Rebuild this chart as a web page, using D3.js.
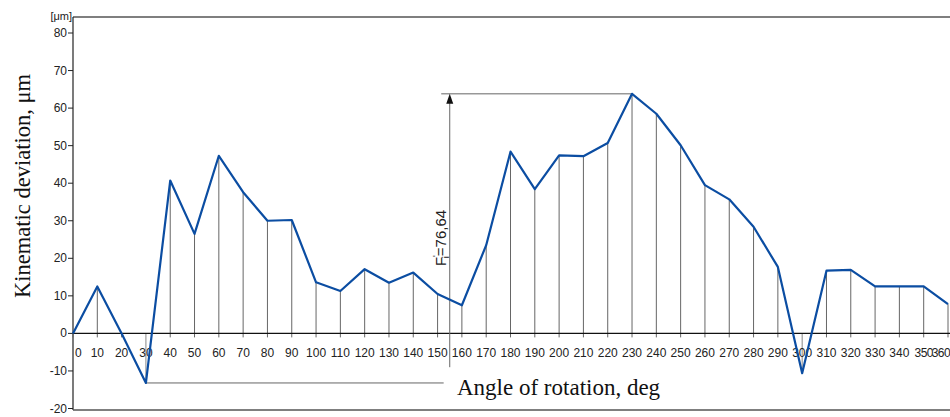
<!DOCTYPE html>
<html lang="en">
<head>
<meta charset="utf-8">
<title>Kinematic deviation</title>
<script src="https://d3js.org/d3.v7.min.js"></script>
<style>
  body { margin: 0; background: #fff; }
  .tick-label { font-family: "Liberation Sans", Arial, sans-serif; font-size: 12px; fill: #222; }
  .axis-title { font-family: "Liberation Serif", "Times New Roman", serif; font-size: 23px; fill: #111; }
</style>
</head>
<body>
<div id="chart"></div>
<script>
// data
var angles = d3.range(0, 361, 10);
var deviation = [0, 12.5, 0, -13.2, 40.7, 26.5, 47.3, 37.6, 30, 30.2,
                 13.6, 11.3, 17.1, 13.5, 16.2, 10.5, 7.5, 23.5, 48.4, 38.4,
                 47.4, 47.2, 50.7, 63.8, 58.5, 50.1, 39.5, 35.7, 28.4, 17.7,
                 -10.6, 16.7, 16.9, 12.5, 12.5, 12.5, 7.8];
var yTicks = [-20, -10, 0, 10, 20, 30, 40, 50, 60, 70, 80];
var fLabel = "76,64";

var w = 950, h = 417;
var margin = {left: 73, top: 17, right: 2, bottom: 7};

var x = d3.scaleLinear().domain([0, 360]).range([margin.left, 948]);
var y = d3.scaleLinear().domain([-20, 80]).range([408.5, 33]);

var data = angles.map((a, i) => ({a: a, v: deviation[i]}));

var svg = d3.select("#chart").append("svg")
    .attr("width", w)
    .attr("height", h);

// frame: top, left, bottom
svg.append("line").attr("x1", margin.left).attr("x2", w).attr("y1", margin.top).attr("y2", margin.top)
    .attr("stroke", "#555").attr("stroke-width", 1.5);
svg.append("line").attr("x1", margin.left).attr("x2", margin.left).attr("y1", margin.top).attr("y2", 410)
    .attr("stroke", "#222").attr("stroke-width", 1.2);
svg.append("line").attr("x1", margin.left).attr("x2", w).attr("y1", 410).attr("y2", 410)
    .attr("stroke", "#555").attr("stroke-width", 1.5);

// y axis ticks + labels
var yAxis = svg.append("g");
yAxis.selectAll("line").data(yTicks).enter().append("line")
    .attr("x1", margin.left - 5).attr("x2", margin.left)
    .attr("y1", d => y(d)).attr("y2", d => y(d))
    .attr("stroke", "#222");
yAxis.selectAll("text").data(yTicks).enter().append("text")
    .attr("class", "tick-label")
    .attr("x", margin.left - 6)
    .attr("y", d => y(d) + 4)
    .attr("text-anchor", "end")
    .text(d => d);
svg.append("text").attr("class", "tick-label")
    .attr("x", margin.left - 1).attr("y", 20)
    .attr("text-anchor", "end")
    .style("font-size", "11px")
    .text("[μm]");

// vertical drop lines from each point to zero, plus tick below
svg.append("g").selectAll("line").data(data).enter().append("line")
    .attr("x1", d => x(d.a)).attr("x2", d => x(d.a))
    .attr("y1", d => y(d.v))
    .attr("y2", d => d.v < 0 ? y(d.v) : y(0) + 4)
    .attr("stroke", "#666").attr("stroke-width", 1);
svg.append("g").selectAll("line").data(data.filter(d => d.v < 0)).enter().append("line")
    .attr("x1", d => x(d.a)).attr("x2", d => x(d.a))
    .attr("y1", y(0)).attr("y2", d => y(d.v))
    .attr("stroke", "#888").attr("stroke-width", 1);

// zero line
svg.append("line").attr("x1", margin.left).attr("x2", w).attr("y1", y(0)).attr("y2", y(0))
    .attr("stroke", "#111").attr("stroke-width", 1.3);

// x tick labels (first and last nudged inside the frame)
var last = angles[angles.length - 1];
svg.append("g").selectAll("text").data(angles).enter().append("text")
    .attr("class", "tick-label")
    .attr("x", d => d === 0 ? x(d) + 2 : d === last ? w : x(d))
    .attr("y", y(0) + 24)
    .attr("text-anchor", d => d === 0 ? "start" : d === last ? "end" : "middle")
    .style("letter-spacing", d => d >= 350 ? "-0.6px" : null)
    .text(d => d);

// F annotation: bracket from min to max
var minPt = data.reduce((a, b) => b.v < a.v ? b : a);
var maxPt = data.reduce((a, b) => b.v > a.v ? b : a);
var arrowX = x(155);

var ann = svg.append("g").attr("stroke", "#666").attr("stroke-width", 1);
ann.append("line").attr("x1", x(minPt.a)).attr("x2", x(152.5))
    .attr("y1", y(minPt.v)).attr("y2", y(minPt.v));
ann.append("line").attr("x1", x(151.5)).attr("x2", x(maxPt.a))
    .attr("y1", y(maxPt.v)).attr("y2", y(maxPt.v));
ann.append("line").attr("x1", arrowX).attr("x2", arrowX)
    .attr("y1", y(-9)).attr("y2", y(maxPt.v) + 8);
svg.append("path")
    .attr("d", `M${arrowX},${y(maxPt.v)} l-3.5,10 l7,0 z`)
    .attr("fill", "#111");

var fText = svg.append("text")
    .attr("class", "tick-label")
    .attr("transform", `translate(${arrowX - 4},${238}) rotate(-90)`)
    .attr("text-anchor", "middle")
    .style("font-size", "15px");
fText.append("tspan").text("F");
fText.append("tspan").attr("dy", -7).style("font-size", "9px").text("'");
fText.append("tspan").attr("dx", -3).attr("dy", 10).style("font-size", "9px").text("i");
fText.append("tspan").attr("dy", -3).text("=" + fLabel);

// deviation line
svg.append("path")
    .datum(data)
    .attr("fill", "none")
    .attr("stroke", "#0b4da2")
    .attr("stroke-width", 2.2)
    .attr("stroke-linejoin", "round")
    .attr("d", d3.line().x(d => x(d.a)).y(d => y(d.v)));

// axis titles
svg.append("text").attr("class", "axis-title")
    .attr("x", 457).attr("y", 395)
    .text("Angle of rotation, deg");
svg.append("text").attr("class", "axis-title")
    .attr("transform", "translate(30,186) rotate(-90)")
    .attr("text-anchor", "middle")
    .style("font-size", "22.5px")
    .text("Kinematic deviation, μm");
</script>
</body>
</html>
